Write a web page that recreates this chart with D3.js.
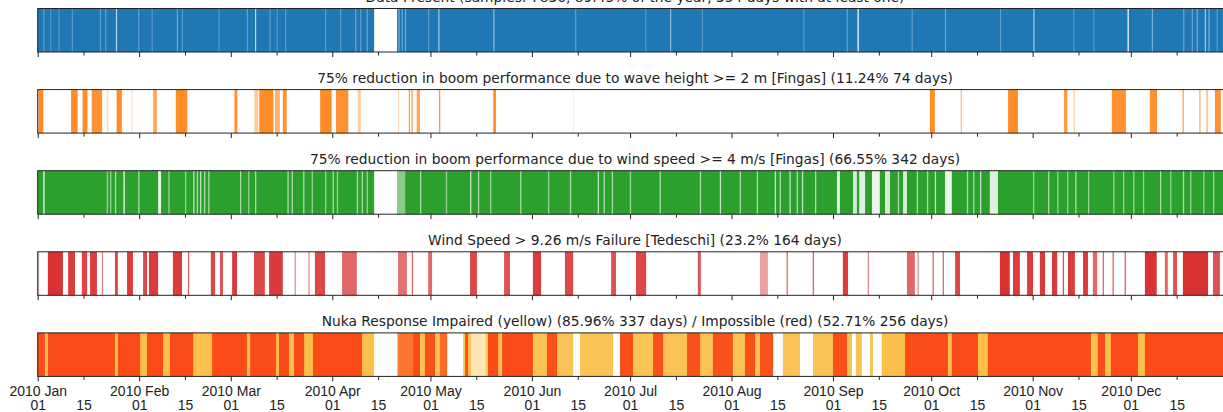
<!DOCTYPE html>
<html>
<head>
<meta charset="utf-8">
<script src="https://cdn.jsdelivr.net/npm/d3@7"></script>
<style>
  body { margin: 0; background: #fff; }
  svg { display: block; font-family: "DejaVu Sans", sans-serif; }
</style>
</head>
<body>
<div id="chart"></div>
<script>
// all spans are [startDay, endDay, opacity], day 0 = 2010-01-01 00:00
const titles = [
  "Data Present (samples: 7836, 89.45% of the year, 354 days with at least one)",
  "75% reduction in boom performance due to wave height >= 2 m [Fingas] (11.24% 74 days)",
  "75% reduction in boom performance due to wind speed >= 4 m/s [Fingas] (66.55% 342 days)",
  "Wind Speed > 9.26 m/s Failure [Tedeschi] (23.2% 164 days)",
  "Nuka Response Impaired (yellow) (85.96% 337 days) / Impossible (red) (52.71% 256 days)"
];

const presentSpans = [[0, 102.8, 1], [109.8, 366, 1]];
// hours without samples inside present days: [day, how empty]
const presentDropouts = [
  [1.7,.3],[3.8,.25],[6.3,.25],[10.4,.25],[19.0,.3],[20.6,.3],[23.9,.7],[30.7,.3],[34.8,.25],
  [42.5,.35],[44.0,.25],[55.2,.25],[63.9,.3],[66.4,.7],[70.8,.3],[73.0,.25],[75.6,.3],[87.8,.3],
  [92.4,.3],[97.0,.35],[98.5,.3],[100.5,.35],[110.2,.4],[111.2,.35],[112.2,.4],[119.3,.3],
  [122.4,.6],[139.2,.5],[164.2,.3],[185.6,.25],[193.2,.5],[202.9,.25],[233.9,.25],[247.2,.3],
  [250.5,1],[267.0,.3],[277.2,.35],[294.0,.3],[304.2,.6],[316.4,.25],[322.5,.25],[333.0,1],
  [340.4,.4],[350.0,.35],[352.6,.35],[354.1,.4],[356.6,.6],[357.7,.4],[360.2,.3]
];

const waveSpans = [
  [0.2,1.7,.9],[10.2,12.2,.9],[13.7,15.2,.9],[16.5,19.7,.85],[21.2,21.5,.3],[24.1,25.7,.9],
  [28.6,28.9,.25],[35.3,36.4,.7],[42.2,45.7,.9],[60.1,61.0,.85],[66.2,67.4,.4],[67.7,72.0,.9],
  [72.5,74.0,.6],[74.9,76.1,.85],[86.3,89.8,.9],[91.1,94.9,.85],[97.8,98.7,.4],[110.1,110.4,.3],
  [113.4,113.7,.8],[114.2,114.5,.8],[115.8,116.8,.7],[122.6,123.0,.8],[139.2,140.0,.9],
  [163.5,163.8,.15],[272.6,274.1,.9],[282.0,282.4,.5],[296.5,299.5,.9],[313.6,314.6,.8],
  [316.5,316.8,.4],[328.2,332.5,.85],[339.8,342.0,.85],[349.8,350.2,.7],[354.9,355.3,.6],
  [357.1,357.5,.6],[359.7,361.5,.85]
];

const windSpans = [[0, 102.8, 1], [109.8, 366, 1]];
// hours below 4 m/s inside the wind spans
const windCalm = [
  [1.7,2.1,.9],[21.1,21.5,.5],[22.1,22.5,.5],[23.6,24.0,.6],[26.2,26.6,.9],[30.7,31.1,.6],
  [36.8,37.7,.9],[39.9,40.3,.5],[45.0,45.4,.5],[47.5,47.9,.7],[48.6,49.0,.6],[49.6,50.0,.7],
  [50.8,51.2,.6],[52.1,52.5,.6],[61.8,62.2,.6],[64.3,64.7,.5],[66.4,66.8,.6],[76.3,76.7,.6],
  [77.6,78.0,.6],[81.1,81.5,.6],[83.7,84.1,.5],[87.8,88.2,.5],[90.1,90.5,.6],[91.4,91.8,.5],
  [97.5,97.9,.6],[99.0,99.4,.6],[100.5,100.9,.5],[109.8,112.3,.45],[116.8,117.2,.6],
  [124.7,125.1,.5],[132.1,132.5,.7],[134.5,134.9,.6],[138.2,138.6,.5],[147.4,147.8,.6],
  [155.9,156.3,.5],[162.6,163.0,.6],[171.1,171.5,.7],[172.9,173.3,.6],[175.4,175.8,.6],
  [180.9,181.3,.5],[190.0,190.4,.6],[202.3,202.7,.6],[208.4,208.8,.7],[214.5,214.9,.6],
  [219.7,220.1,.6],[225.2,225.6,.7],[226.7,227.1,.6],[229.7,230.1,.7],[231.9,232.3,.6],
  [233.5,233.9,.7],[237.5,237.9,.6],[244.2,245.1,.85],[249.1,250.3,.8],[251.0,252.8,.85],
  [254.9,257.3,.9],[258.9,260.4,.8],[262.8,263.2,.6],[264.4,265.6,.8],[268.6,269.0,.6],
  [271.7,272.1,.6],[274.1,274.5,.7],[277.2,279.3,.9],[283.9,284.3,.6],[285.8,286.2,.6],
  [287.9,288.3,.7],[290.9,293.4,.85],[304.1,304.5,.5],[308.7,309.1,.6],[311.5,311.9,.5],
  [314.5,314.9,.5],[317.0,317.4,.6],[320.9,321.3,.5],[328.6,329.0,.5],[331.6,332.0,.5],
  [334.7,335.1,.5],[337.7,338.1,.5],[342.9,343.3,.6],[346.0,346.4,.5],[349.9,350.3,.6],
  [352.1,352.5,.5],[356.1,356.5,.5],[359.1,359.5,.5]
];

const failureSpans = [
  [0.1,0.4,.35],[3.1,7.7,.95],[9.3,11.4,.9],[13.5,15.1,.85],[16.0,18.1,.9],[19.6,19.9,.6],
  [23.6,24.5,.85],[27.3,29.1,.9],[32.2,33.4,.85],[34.0,36.8,.9],[41.3,44.1,.9],[45.9,46.2,.8],
  [52.9,54.2,.85],[55.7,56.6,.8],[59.4,60.9,.9],[66.1,69.4,.85],[70.7,74.9,.9],[78.5,78.9,.5],
  [82.6,83.2,.35],[84.7,87.8,.85],[93.0,97.5,.7],[110.1,112.8,.65],[114.3,114.7,.7],
  [119.3,120.5,.7],[132.1,134.2,.85],[142.5,144.3,.8],[151.3,153.8,.9],[161.1,163.6,.85],
  [175.2,176.7,.8],[182.8,185.9,.85],[201.7,202.6,.8],[220.7,223.1,.45],[228.8,229.2,.7],
  [236.8,237.2,.7],[246.0,247.6,.9],[253.6,253.9,.6],[265.6,268.0,.7],[268.8,269.1,.6],
  [273.4,273.8,.7],[276.5,276.9,.7],[280.3,281.8,.85],[294.0,297.0,.95],[298.0,300.1,.9],
  [302.3,304.1,.9],[306.2,307.8,.9],[309.9,311.5,.9],[313.2,313.6,.8],[314.8,316.9,.9],
  [319.4,320.9,.9],[322.4,323.7,.7],[325.4,325.8,.7],[328.4,328.8,.7],[332.1,332.5,.7],
  [338.3,341.9,.95],[344.4,345.3,.7],[346.9,348.1,.8],[349.9,357.6,.95],[359.1,361.2,.8]
];

const impairedSpans = [
  [0,102.8,.95],[109.8,125.1,.9],[130.0,132.4,.9],[132.4,136.9,.4],[136.9,163.6,.9],
  [165.7,175.8,.9],[177.9,224.7,.9],[227.7,232.9,.9],[236.9,248.8,.9],[250.0,251.8,.9],
  [254.3,255.2,.9],[257.9,366,.95]
];

const impossibleSpans = [
  [0,2.2,.95],[3.1,23.6,.95],[24.5,31.3,.95],[33.4,38.3,.95],[40.4,47.5,.95],[53.3,63.9,.95],
  [64.9,72.8,.95],[73.7,76.8,.95],[78.3,81.4,.95],[84.1,99.1,.95],[110.1,114.7,.6],
  [114.7,116.8,.95],[118.3,121.4,.9],[122.9,125.1,.7],[130.6,131.5,.9],[137.6,140.7,.95],
  [141.9,151.3,.95],[155.6,158.7,.9],[177.9,181.9,.9],[188.0,191.1,.9],[198.4,202.4,.9],
  [206.3,212.4,.9],[216.1,219.2,.9],[220.7,224.7,.9],[243.0,247.3,.9],[265.0,278.1,.95],
  [279.3,287.3,.95],[290.3,321.8,.95],[323.9,326.1,.95],[327.9,336.2,.95],[338.3,366,.95]
];

const colors = {
  blue: "#1f77b4", orange: "#ff7f0e", green: "#2ca02c", red: "#d62728",
  yellow: "#fbbd42", orangered: "#fa4515"
};

// ---------------------------------------------------------------
const width = 1223, height = 412;
const margin = {left: 37.7, right: -9.3};
const panelTop0 = 8.5, panelStep = 81.1, panelH = 43.5;

const DAY0 = Date.UTC(2010, 0, 1);
const toDate = d => new Date(DAY0 + d * 864e5);

const x = d3.scaleUtc()
  .domain([new Date(DAY0), new Date(Date.UTC(2011, 0, 1))])
  .range([margin.left, width - margin.right]);

const svg = d3.select("#chart").append("svg")
  .attr("width", width)
  .attr("height", height);

const panels = [
  {layers: [{spans: presentSpans, color: colors.blue}, {spans: presentDropouts.map(d => [d[0], d[0] + 0.35, d[1]]), color: "#fff"}]},
  {layers: [{spans: waveSpans, color: colors.orange}]},
  {layers: [{spans: windSpans, color: colors.green}, {spans: windCalm, color: "#fff"}]},
  {layers: [{spans: failureSpans, color: colors.red}]},
  {layers: [{spans: impairedSpans, color: colors.yellow}, {spans: impossibleSpans, color: colors.orangered}]}
];

const majorTicks = d3.utcMonth.range(new Date(DAY0), new Date(Date.UTC(2011, 0, 1)));
const minorTicks = majorTicks.map(d => new Date(d.getTime() + 14 * 864e5));

panels.forEach((p, i) => {
  const top = panelTop0 + i * panelStep;
  const g = svg.append("g").attr("transform", `translate(0,${top})`);

  g.append("text")
    .attr("x", (x.range()[0] + x.range()[1]) / 2)
    .attr("y", -7)
    .attr("text-anchor", "middle")
    .attr("font-size", 13.8)
    .attr("fill", "#222")
    .text(titles[i]);

  p.layers.forEach(layer => {
    g.append("g").selectAll("rect")
      .data(layer.spans)
      .join("rect")
      .attr("x", d => x(toDate(d[0])))
      .attr("y", 0)
      .attr("width", d => Math.max(1.2, x(toDate(d[1])) - x(toDate(d[0]))))
      .attr("height", panelH)
      .attr("fill", layer.color)
      .attr("fill-opacity", d => d[2]);
  });

  g.append("rect")
    .attr("x", x.range()[0])
    .attr("y", 0)
    .attr("width", x.range()[1] - x.range()[0])
    .attr("height", panelH)
    .attr("fill", "none")
    .attr("stroke", "#222")
    .attr("stroke-width", 1);

  const last = i === panels.length - 1;

  const majorAxis = d3.axisBottom(x)
    .tickValues(majorTicks)
    .tickSize(5)
    .tickFormat(() => "");
  const minorAxis = d3.axisBottom(x)
    .tickValues(minorTicks)
    .tickSize(3.5)
    .tickFormat(() => "");

  const ga = g.append("g").attr("transform", `translate(0,${panelH})`).call(majorAxis);
  const gm = g.append("g").attr("transform", `translate(0,${panelH})`).call(minorAxis);
  [ga, gm].forEach(a => {
    a.select(".domain").remove();
    a.selectAll(".tick line").attr("stroke", "#222").attr("stroke-width", 1);
    a.selectAll(".tick text").remove();
  });

  if (last) {
    // two-line date labels: "2010 Jan" above "01", minor ticks show "15"
    const lbl = sel => sel
      .attr("text-anchor", "middle")
      .attr("font-size", 14)
      .attr("fill", "#222");
    ga.selectAll(".tick").append("text").call(lbl)
      .attr("y", 19.5)
      .text(d => d3.utcFormat("%Y %b")(d));
    ga.selectAll(".tick").append("text").call(lbl)
      .attr("y", 33.5)
      .text(d => d3.utcFormat("%d")(d));
    gm.selectAll(".tick").append("text").call(lbl)
      .attr("y", 33.5)
      .text(d => d3.utcFormat("%d")(d));
  }
});
</script>
</body>
</html>
